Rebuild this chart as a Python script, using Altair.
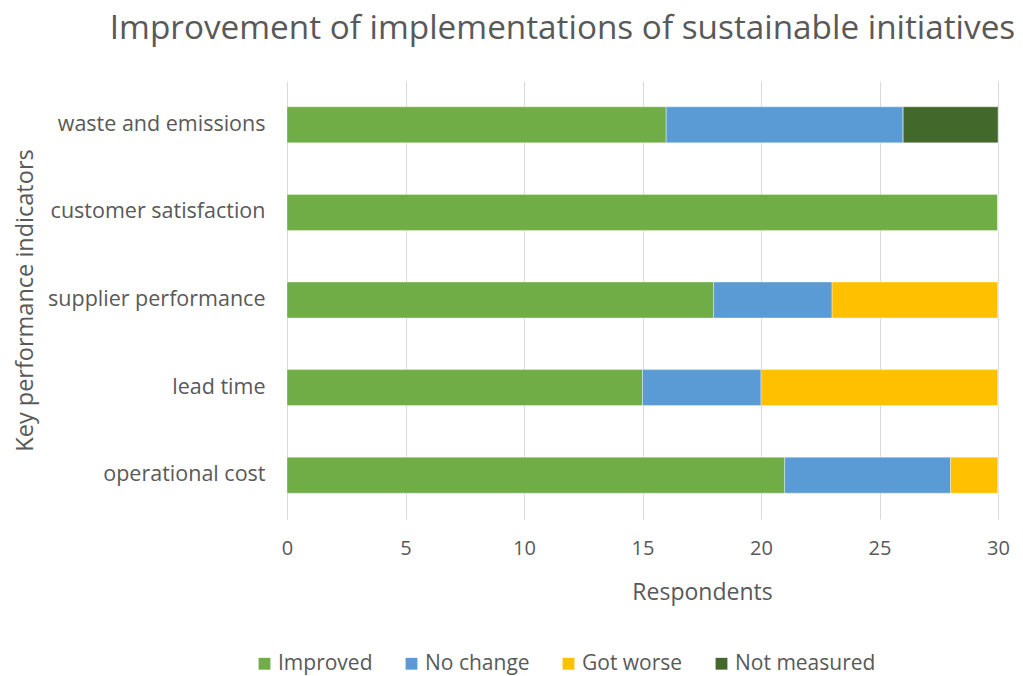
import altair as alt
import pandas as pd

kpis = ["waste and emissions", "customer satisfaction", "supplier performance", "lead time", "operational cost"]
statuses = ["Improved", "No change", "Got worse", "Not measured"]
improved = [16, 30, 18, 15, 21]
no_change = [10, 0, 5, 5, 7]
got_worse = [0, 0, 7, 10, 2]
not_measured = [4, 0, 0, 0, 0]
colors = ["#70AD47", "#5B9BD5", "#FFC000", "#43682B"]
x_ticks = [0, 5, 10, 15, 20, 25, 30]

series = [improved, no_change, got_worse, not_measured]
rows = []
for i, k in enumerate(kpis):
    for j, s in enumerate(statuses):
        rows.append({"kpi": k, "status": s, "order": j, "value": series[j][i]})
df = pd.DataFrame(rows)

FONT = "Open Sans"
TXT = "#595959"

chart = alt.Chart(df).mark_bar(size=36, stroke="#ffffff", strokeWidth=0.6, strokeOpacity=0.6).encode(
    x=alt.X("sum(value):Q",
            scale=alt.Scale(domain=[0, 30], nice=False),
            axis=alt.Axis(values=x_ticks, grid=True, gridColor="#D9D9D9", domain=False, ticks=False,
                          labelFontSize=20, labelColor=TXT, labelFont=FONT, labelPadding=19,
                          labelFlush=False,
                          title="Respondents", titleFontSize=23, titleColor=TXT, titleFont=FONT,
                          titleFontWeight="normal", titleX=415, titleY=73,
                          titleAlign="center", titleBaseline="middle")),
    y=alt.Y("kpi:N", sort=kpis,
            scale=alt.Scale(paddingInner=0.59, paddingOuter=0.295),
            axis=alt.Axis(ticks=False, domain=False, labelFontSize=21.5, labelColor=TXT, labelFont=FONT,
                          labelPadding=22, labelLimit=400, title="Key performance indicators",
                          titleFontSize=23.5, titleColor=TXT, titleFont=FONT, titleFontWeight="normal",
                          titleX=-262, titleY=219, titleAngle=-90, titleAlign="center",
                          titleBaseline="middle")),
    color=alt.Color("status:N", sort=statuses,
                    scale=alt.Scale(domain=statuses, range=colors),
                    legend=alt.Legend(title=None, orient="none", direction="horizontal",
                                      legendX=-33, legendY=572, symbolType="square", symbolSize=140,
                                      symbolStrokeWidth=0, labelFontSize=21, labelColor=TXT,
                                      labelFont=FONT, columnPadding=28, labelOffset=3, labelLimit=300)),
    order=alt.Order("order:Q"),
    tooltip=["kpi", "status", "value"],
).properties(
    width=711, height=438,
    title=alt.Title("Improvement of implementations of sustainable initiatives",
                    fontSize=33.3, color=TXT, font=FONT, fontWeight="normal",
                    anchor="middle", frame="group", dx=-80, offset=35),
    autosize=alt.AutoSizeParams(type="none"),
    padding={"left": 287, "top": 81, "right": 25, "bottom": 157},
).configure(background="white", view=alt.ViewConfig(stroke=None, strokeWidth=0))

chart.save("out.html", embed_options={"renderer": "svg", "actions": False})
